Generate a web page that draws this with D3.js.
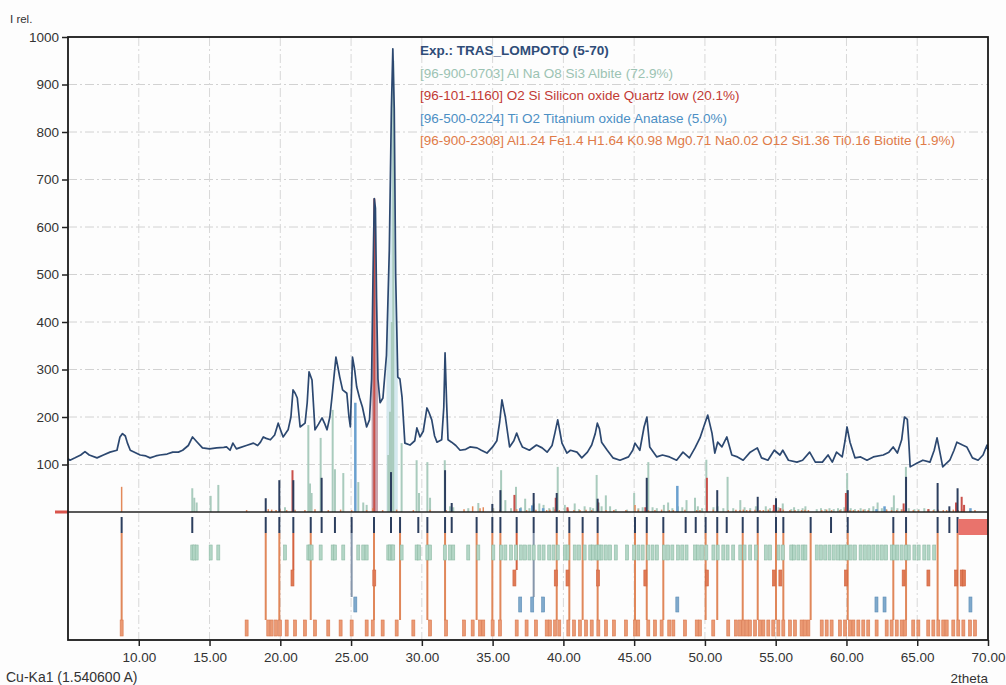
<!DOCTYPE html>
<html>
<head>
<meta charset="utf-8">
<script src="https://cdn.jsdelivr.net/npm/d3@7"></script>
<style>
    body { margin: 0; background: #fdfdfd; }
    text { font-family: "Liberation Sans", Arial, sans-serif; }
</style>
</head>
<body>
<div id="chart"></div>
<script>
// measured pattern (2theta, I rel.)
var expTheta = [5.0, 5.14, 5.5, 5.9, 6.2, 6.5, 7.05, 7.5, 7.97, 8.46, 8.67, 8.85, 9.05, 9.2, 9.4, 10.1, 10.5, 10.8, 11.2, 11.5,
    12.0, 12.4, 12.8, 13.1, 13.5, 13.8, 14.1, 14.5, 15.0, 15.5, 16.0, 16.2, 16.45, 16.65, 16.9, 17.1, 17.6, 18.1, 18.4, 18.6,
    18.8, 19.0, 19.3, 19.6, 19.85, 20.05, 20.2, 20.55, 20.75, 20.9, 21.05, 21.2, 21.4, 21.75, 21.9, 22.03, 22.24, 22.45, 22.7, 22.95,
    23.15, 23.3, 23.5, 23.65, 23.93, 24.1, 24.2, 24.4, 24.7, 24.85, 24.95, 25.1, 25.25, 25.4, 25.6, 25.8, 26.1, 26.3, 26.45, 26.55,
    26.64, 26.72, 26.8, 26.9, 27.05, 27.25, 27.5, 27.7, 27.85, 27.95, 28.05, 28.15, 28.3, 28.45, 28.6, 28.8, 29.16, 29.5, 29.65, 29.87,
    30.1, 30.36, 30.5, 30.7, 30.9, 31.07, 31.4, 31.55, 31.64, 31.75, 31.85, 32.1, 32.4, 32.7, 33.1, 33.4, 33.9, 34.2, 34.6, 35.0,
    35.3, 35.5, 35.66, 35.8, 35.9, 36.2, 36.5, 36.7, 36.9, 37.1, 37.6, 38.1, 38.5, 38.85, 39.2, 39.4, 39.6, 39.75, 39.9, 40.25,
    40.5, 40.96, 41.3, 41.7, 42.0, 42.25, 42.4, 42.55, 42.7, 43.1, 43.5, 44.0, 44.6, 44.9, 45.06, 45.4, 45.7, 45.9, 46.1, 46.6,
    47.0, 47.5, 48.0, 48.45, 48.9, 49.3, 49.65, 50.0, 50.2, 50.5, 50.7, 50.9, 51.2, 51.55, 51.9, 52.3, 52.7, 53.2, 53.7, 54.0,
    54.45, 54.9, 55.3, 55.5, 55.9, 56.5, 56.9, 57.4, 57.8, 58.3, 58.7, 59.0, 59.3, 59.7, 59.9, 60.04, 60.25, 60.6, 61.0, 61.45,
    61.9, 62.6, 63.0, 63.3, 63.6, 63.9, 64.1, 64.3, 64.4, 64.5, 65.0, 65.4, 65.9, 66.2, 66.4, 66.6, 66.8, 67.3, 67.6, 67.8,
    68.2, 68.5, 68.9, 69.3, 69.65, 69.93, 70.0];
var expI = [112, 109, 114, 120, 127, 120, 114, 120, 126, 130, 158, 165, 160, 145, 130, 120, 118, 114, 118, 120,
    122, 126, 126, 130, 140, 158, 148, 135, 133, 135, 136, 137, 130, 145, 133, 135, 140, 145, 140, 147,
    158, 155, 152, 162, 187, 170, 158, 173, 200, 257, 250, 240, 179, 187, 230, 295, 278, 173, 185, 198,
    185, 173, 200, 242, 326, 300, 284, 257, 250, 200, 179, 326, 300, 263, 240, 221, 179, 194, 280, 500,
    660, 640, 450, 280, 230, 240, 330, 550, 850, 975, 850, 500, 284, 280, 242, 145, 141, 150, 177, 158,
    170, 219, 210, 194, 160, 147, 152, 220, 335, 230, 152, 147, 140, 130, 132, 137, 135, 130, 124, 137,
    150, 190, 236, 215, 200, 137, 150, 166, 150, 137, 130, 141, 135, 126, 140, 166, 194, 170, 145, 124,
    130, 126, 114, 126, 141, 165, 187, 175, 147, 130, 114, 109, 116, 130, 145, 130, 179, 200, 137, 116,
    120, 116, 109, 126, 114, 135, 156, 187, 204, 166, 124, 147, 137, 158, 120, 116, 109, 126, 135, 114,
    109, 130, 120, 130, 109, 105, 109, 126, 105, 105, 120, 105, 126, 116, 150, 179, 147, 114, 116, 109,
    116, 120, 126, 137, 124, 152, 200, 195, 150, 95, 103, 109, 105, 130, 156, 126, 95, 109, 130, 147,
    141, 137, 114, 109, 120, 141, 130];

// peak list: [2theta, stick height, row the marker line runs to]
var expPeaks = [[8.79, 0, "E"], [13.78, 0, "B"], [18.97, 29, "E"], [19.93, 67, "E"], [20.92, 67, "C"], [22.15, 0, "E"],
    [22.92, 72, "B"], [23.86, 0, "B"], [25.04, 0, "D"], [26.62, 0, "E"], [27.82, 84, "B"], [28.46, 0, "E"],
    [29.75, 0, "B"], [30.39, 0, "E"], [31.64, 88, "E"], [32.11, 19, "B"], [33.87, 0, "E"], [34.98, 17, "E"],
    [35.55, 46, "E"], [36.70, 0, "C"], [37.90, 40, "D"], [39.53, 40, "E"], [40.42, 0, "E"], [41.36, 0, "E"],
    [42.42, 28, "E"], [45.06, 0, "E"], [45.89, 72, "E"], [47.06, 0, "E"], [48.64, 0, "B"], [49.35, 0, "B"],
    [50.05, 0, "E"], [50.87, 46, "E"], [51.54, 0, "B"], [52.67, 0, "E"], [53.73, 32, "E"], [55.02, 29, "E"],
    [55.54, 0, "E"], [57.47, 0, "E"], [58.91, 0, "B"], [60.09, 46, "E"], [63.31, 0, "E"], [64.21, 74, "E"],
    [66.44, 61, "E"], [67.27, 12, ""], [67.85, 50, "E"]];

// phase reflections: [2theta, I rel.]
var albite = [[13.78, 50], [13.92, 30], [14.09, 20], [15.08, 34], [15.62, 57], [20.33, 10], [21.98, 183], [22.1, 60],
    [22.21, 40], [22.85, 156], [23.70, 215], [23.86, 90], [24.45, 82], [25.51, 63], [25.86, 20], [26.10, 15],
    [27.63, 120], [27.75, 211], [27.88, 400], [27.98, 950], [28.57, 145], [29.63, 109], [29.8, 40], [30.39, 105],
    [30.58, 30], [31.62, 109], [31.99, 12], [32.22, 10], [33.28, 8], [33.99, 19], [35.05, 8],
    [35.6, 88], [35.9, 25], [36.3, 8], [36.65, 53], [37.0, 10], [37.3, 28], [37.6, 8], [37.9, 18], [38.3, 18],
    [38.6, 15], [39.0, 8], [39.3, 10], [39.6, 95], [40.1, 15], [40.3, 8], [40.8, 18], [41.1, 6], [41.5, 12],
    [41.9, 10], [42.1, 8], [42.35, 78], [42.5, 20], [42.7, 12], [43.0, 35], [43.3, 12], [43.7, 6], [44.5, 5],
    [45.0, 40], [45.3, 8], [45.6, 10], [46.0, 105], [46.3, 10], [46.6, 8], [47.1, 15], [47.4, 20], [47.7, 8],
    [48.1, 12], [48.4, 10], [48.7, 25], [49.3, 30], [49.5, 12], [49.8, 8], [50.1, 110], [50.6, 10], [50.9, 12],
    [51.3, 8], [51.6, 74], [52.0, 8], [52.5, 25], [52.8, 10], [53.2, 8], [53.6, 12], [54.3, 12], [54.6, 8],
    [55.2, 10], [55.5, 18], [56.1, 6], [56.3, 10], [56.6, 6], [56.9, 8], [57.1, 12], [57.9, 6], [58.2, 8],
    [58.5, 6], [58.8, 8], [59.1, 6], [59.4, 8], [59.6, 6], [59.85, 10], [60.05, 82], [60.3, 8], [60.6, 6],
    [61.0, 8], [61.3, 6], [61.6, 8], [61.9, 12], [62.2, 20], [62.5, 8], [62.8, 6], [63.2, 10], [63.35, 35],
    [63.6, 8], [63.9, 6], [64.2, 95], [64.4, 8], [64.8, 6], [65.1, 6], [65.5, 8], [65.8, 6], [66.2, 6]];
var quartz = [[20.86, 88], [26.64, 660], [36.54, 36], [39.46, 30], [40.29, 10], [42.45, 20], [45.79, 10], [50.14, 72],
    [54.87, 15], [55.33, 8], [59.96, 40], [64.04, 18], [65.79, 6], [67.74, 20], [68.14, 32], [68.31, 15]];
var anatase = [[25.30, 230], [36.95, 8], [37.80, 14], [38.57, 8], [48.05, 55], [62.12, 6], [62.69, 12], [68.76, 8]];
var biotite = [[8.79, 53], [17.62, 4], [19.15, 6], [19.39, 5], [19.70, 4], [19.98, 6], [20.45, 4], [21.04, 5],
    [21.74, 4], [22.45, 6], [23.39, 4], [24.26, 5], [25.04, 4], [26.10, 4], [26.53, 8], [27.23, 4], [28.22, 5],
    [29.40, 4], [30.58, 5], [31.71, 4], [32.98, 6], [33.59, 12], [34.11, 8], [34.34, 10], [35.0, 8],
    [35.52, 5], [36.70, 6], [37.40, 4], [38.06, 5], [38.82, 4], [39.05, 5], [39.41, 6], [39.71, 4], [40.35, 5],
    [40.75, 4], [41.17, 4], [41.60, 5], [42.00, 4], [42.47, 6], [43.01, 4], [43.57, 4], [44.42, 4], [45.06, 15],
    [45.29, 5], [46.00, 4], [46.47, 4], [46.94, 5], [47.48, 4], [47.77, 4], [48.59, 5], [49.42, 4], [49.65, 4],
    [50.59, 5], [51.65, 4], [52.19, 5], [52.48, 4], [52.71, 5], [52.95, 4], [53.18, 4], [53.54, 5], [53.89, 4],
    [54.13, 4], [54.48, 5], [54.83, 4], [55.19, 4], [55.54, 5], [56.01, 4], [56.36, 4], [56.83, 4], [57.07, 5],
    [57.31, 4], [58.25, 4], [58.60, 5], [58.95, 4], [59.54, 4], [59.90, 6], [60.25, 4], [60.49, 4], [60.84, 4],
    [61.19, 5], [61.54, 4], [62.13, 4], [62.84, 5], [63.19, 4], [63.55, 4], [63.90, 5], [64.14, 4], [64.72, 4],
    [65.08, 4], [65.78, 5], [66.14, 4], [66.49, 5], [66.84, 4], [67.08, 4], [67.55, 5], [67.90, 4], [68.26, 6],
    [68.73, 4], [69.08, 4]];
var markedRange = [67.9, 70];

var xTicks = [10, 15, 20, 25, 30, 35, 40, 45, 50, 55, 60, 65, 70];
var yTicks = [100, 200, 300, 400, 500, 600, 700, 800, 900, 1000];

var legendLabels = ["Exp.: TRAS_LOMPOTO (5-70)",
    "[96-900-0703] Al Na O8 Si3  Albite (72.9%)",
    "[96-101-1160] O2 Si Silicon oxide Quartz low (20.1%)",
    "[96-500-0224] Ti O2 Titanium oxide Anatase (5.0%)",
    "[96-900-2308] Al1.24 Fe1.4 H1.64 K0.98 Mg0.71 Na0.02 O12 Si1.36 Ti0.16  Biotite (1.9%)"];
var legendColors = ["#2f4c78", "#9cc3b3", "#c23a34", "#4c8fc4", "#e07b48"];

var width = 1006, height = 685;
var plot = { left: 68, right: 988, top: 37, base: 512, bottom: 640 };
// marker rows in the lower panel
var rows = { A: [517, 533], B: [545, 560], C: [570, 586], D: [597, 612], E: [620, 636] };
var rowLineColor = { C: "#d4623f", D: "#8696ab", E: "#e0875a" };

var svg = d3.select("#chart")
    .append("svg")
        .attr("width", width)
        .attr("height", height);

var x = d3.scaleLinear().domain([5, 70]).range([plot.left, plot.right]);
var y = d3.scaleLinear().domain([0, 1000]).range([plot.base, plot.top]);

//////////// grid ////////////////
svg.append("g").selectAll("line")
    .data(yTicks.filter(function(d) { return d < 1000; }))
    .enter().append("line")
        .attr("x1", plot.left).attr("x2", plot.right)
        .attr("y1", function(d) { return y(d); })
        .attr("y2", function(d) { return y(d); })
        .attr("stroke", "#d2d2d2")
        .attr("stroke-dasharray", "9,3,2,3");

svg.append("g").selectAll("line")
    .data(xTicks.filter(function(d) { return d < 70; }))
    .enter().append("line")
        .attr("x1", function(d) { return x(d); })
        .attr("x2", function(d) { return x(d); })
        .attr("y1", plot.top).attr("y2", plot.bottom)
        .attr("stroke", "#d8d8d8")
        .attr("stroke-dasharray", "9,3,2,3");

//////////// filled main peaks ////////////////
var pts = expTheta.map(function(t, i) { return { t: t, v: expI[i] }; });
var area = d3.area()
    .x(function(d) { return x(d.t); })
    .y0(y(0))
    .y1(function(d) { return y(d.v); });

svg.append("path")
    .datum(pts.filter(function(d) { return d.t >= 26.45 && d.t <= 26.9; }))
    .attr("fill", "#c8a2ad")
    .attr("d", area);
svg.append("path")
    .datum(pts.filter(function(d) { return d.t >= 27.5 && d.t <= 28.3; }))
    .attr("fill", "#d4e8ee")
    .attr("d", area);

//////////// phase sticks ////////////////
function sticks(list, color, w) {
    svg.append("g").selectAll("line")
        .data(list)
        .enter().append("line")
            .attr("x1", function(d) { return x(d[0]); })
            .attr("x2", function(d) { return x(d[0]); })
            .attr("y1", y(0))
            .attr("y2", function(d) { return y(d[1]); })
            .attr("stroke", color)
            .attr("stroke-width", w);
}
sticks(albite, "#a9cbbd", 2);
sticks(biotite, "#e3895a", 1.5);
sticks(anatase, "#6aa0cf", 2.5);
sticks(quartz, "#c9504a", 2);
sticks(expPeaks.filter(function(d) { return d[1] > 0; }), "#2c3e5e", 2);

//////////// measured curve ////////////////
var line = d3.line()
    .x(function(d) { return x(d.t); })
    .y(function(d) { return y(d.v); });
svg.append("path")
    .datum(pts)
    .attr("fill", "none")
    .attr("stroke", "#2c4870")
    .attr("stroke-width", 1.7)
    .attr("stroke-linejoin", "round")
    .attr("d", line);

//////////// lower panel: marker rows ////////////////
// connecting lines from peak marker to phase row
svg.append("g").selectAll("line")
    .data(expPeaks.filter(function(d) { return rowLineColor[d[2]]; }))
    .enter().append("line")
        .attr("x1", function(d) { return x(d[0]); })
        .attr("x2", function(d) { return x(d[0]); })
        .attr("y1", rows.A[1])
        .attr("y2", function(d) { return rows[d[2]][0]; })
        .attr("stroke", function(d) { return rowLineColor[d[2]]; })
        .attr("stroke-width", 2);

function rowTicks(list, row, fill, stroke) {
    svg.append("g").selectAll("rect")
        .data(list)
        .enter().append("rect")
            .attr("x", function(d) { return x(d[0]) - 1.5; })
            .attr("y", rows[row][0])
            .attr("width", 3)
            .attr("height", rows[row][1] - rows[row][0])
            .attr("fill", fill)
            .attr("stroke", stroke)
            .attr("stroke-width", 0.6);
}
rowTicks(albite, "B", "#b3d6c6", "#8fbba6");
rowTicks(quartz, "C", "#e07a55", "#cf6440");
rowTicks(anatase, "D", "#7fa9cc", "#5d8db5");
rowTicks(biotite, "E", "#eb9a74", "#d9784e");

svg.append("g").selectAll("line")
    .data(expPeaks)
    .enter().append("line")
        .attr("x1", function(d) { return x(d[0]); })
        .attr("x2", function(d) { return x(d[0]); })
        .attr("y1", rows.A[0])
        .attr("y2", rows.A[1])
        .attr("stroke", "#2c3e5e")
        .attr("stroke-width", 2);

svg.append("rect")
    .attr("x", x(markedRange[0]))
    .attr("y", rows.A[0] + 2)
    .attr("width", x(markedRange[1]) - x(markedRange[0]))
    .attr("height", rows.A[1] - rows.A[0])
    .attr("fill", "#e9736c");

//////////// frame and axes ////////////////
svg.append("line")
    .attr("x1", plot.left).attr("x2", plot.right)
    .attr("y1", y(0)).attr("y2", y(0))
    .attr("stroke", "#222").attr("stroke-width", 1.5);
svg.append("line")
    .attr("x1", plot.left - 13).attr("x2", plot.left)
    .attr("y1", y(0)).attr("y2", y(0))
    .attr("stroke", "#d9544c").attr("stroke-width", 3);

svg.append("rect")
    .attr("x", plot.left).attr("y", plot.top)
    .attr("width", plot.right - plot.left)
    .attr("height", plot.bottom - plot.top)
    .attr("fill", "none")
    .attr("stroke", "#1a1a1a")
    .attr("stroke-width", 1.8);

var yAxis = svg.append("g")
    .attr("transform", "translate(" + plot.left + ",0)")
    .call(d3.axisLeft(y).tickValues(yTicks).tickFormat(d3.format("d")).tickSize(6).tickPadding(3));
var xAxis = svg.append("g")
    .attr("transform", "translate(0," + plot.bottom + ")")
    .call(d3.axisBottom(x).tickValues(xTicks).tickFormat(d3.format(".2f")).tickSize(6).tickPadding(6));

[yAxis, xAxis].forEach(function(a) {
    a.select(".domain").remove();
    a.selectAll(".tick line").attr("stroke", "#222").attr("stroke-width", 1.5);
    a.selectAll("text")
        .attr("fill", "#333")
        .style("font-size", "13.5px")
        .style("font-family", "'Liberation Sans', Arial, sans-serif");
});

//// text labels /////////////////////////
svg.append("text")
    .attr("x", 10).attr("y", 23)
    .text("I rel.")
    .attr("fill", "#333")
    .style("font-size", "11.5px");
svg.append("text")
    .attr("x", 6).attr("y", 682)
    .text("Cu-Ka1 (1.540600 A)")
    .attr("fill", "#333")
    .style("font-size", "14px");
svg.append("text")
    .attr("x", 988).attr("y", 683)
    .text("2theta")
    .attr("fill", "#333")
    .style("font-size", "13.5px")
    .style("text-anchor", "end");

svg.append("g").selectAll("text")
    .data(legendLabels)
    .enter().append("text")
        .attr("x", 420)
        .attr("y", function(d, i) { return 55 + i * 22.5; })
        .attr("fill", function(d, i) { return legendColors[i]; })
        .style("font-size", "13.5px")
        .style("font-weight", function(d, i) { return i === 0 ? 600 : 400; })
        .text(function(d) { return d; });
</script>
</body>
</html>
